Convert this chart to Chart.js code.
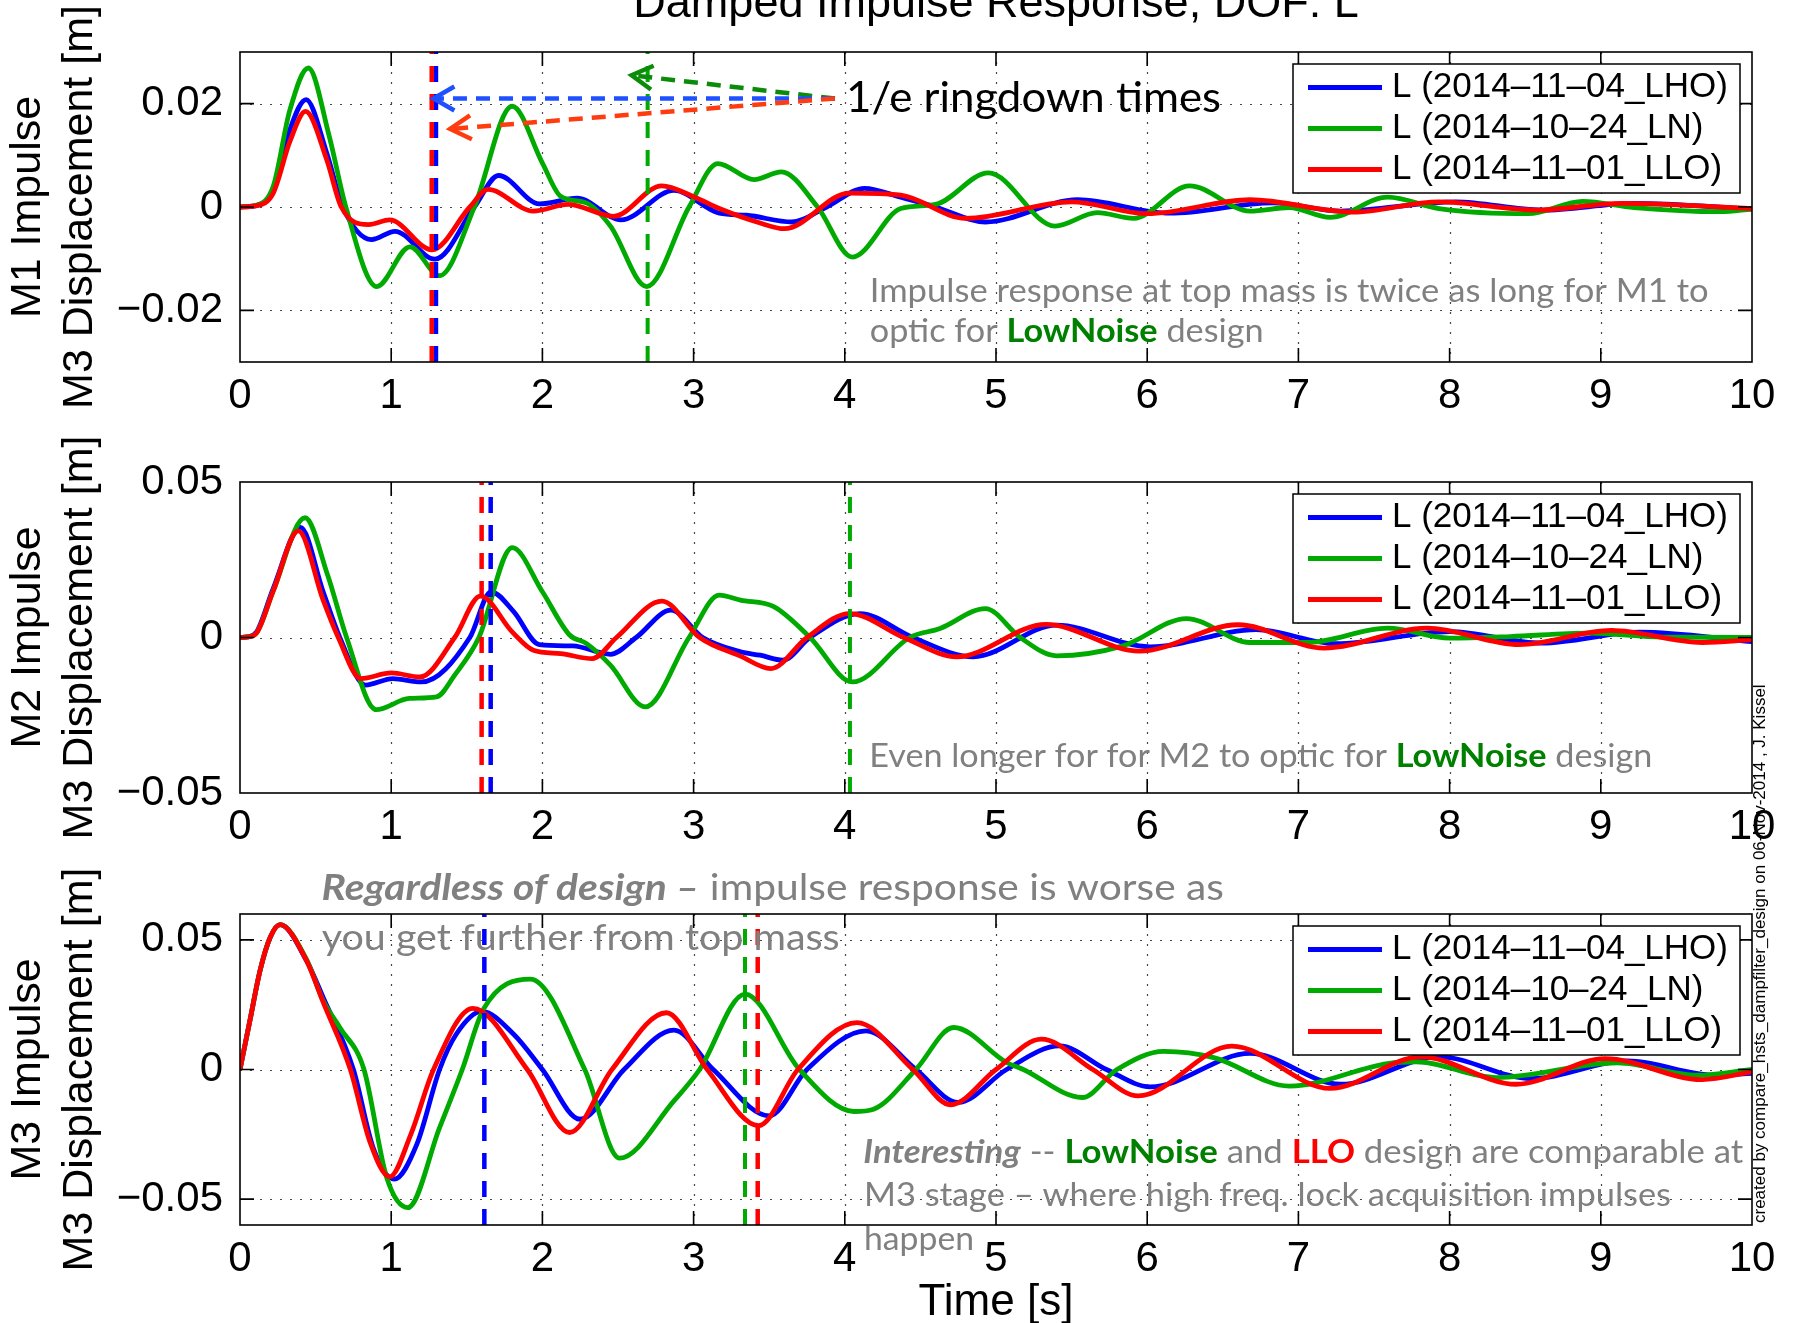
<!DOCTYPE html>
<html>
<head>
<meta charset="utf-8">
<script src="https://cdn.jsdelivr.net/npm/chart.js@4.4.1/dist/chart.umd.min.js"></script>
<style>
html,body{margin:0;padding:0;overflow:hidden;background:#fff;width:1799px;height:1323px;position:relative;}
canvas{position:absolute;left:0;}
#c1{top:-40px;}
#c2{top:420px;}
#c3{top:850px;}
#credit{position:absolute;left:1750px;top:1223px;font:17px "Liberation Sans",Arial,sans-serif;line-height:20px;white-space:nowrap;transform-origin:0 0;transform:rotate(-90deg);color:#000;}
</style>
</head>
<body>
<canvas id="c1" width="1799" height="460"></canvas>
<canvas id="c2" width="1799" height="431"></canvas>
<canvas id="c3" width="1799" height="495"></canvas>
<div id="credit">created by compare_hsts_dampfilter_design on 06-Nov-2014 , J. Kissel</div>
<script>
// ---------------- DATA ----------------
const chartTitle = 'Damped Impulse Response, DOF: L';
const seriesNames = ['L (2014\u201311\u201304_LHO)', 'L (2014\u201310\u201324_LN)', 'L (2014\u201311\u201301_LLO)'];
const xTickValues = [0,1,2,3,4,5,6,7,8,9,10];
const xTickLabels = ['0','1','2','3','4','5','6','7','8','9','10'];
const xTitle = 'Time [s]';

const m1YTicks = [-0.02, 0, 0.02];
const m1YLabels = ['\u22120.02', '0', '0.02'];
const m1Range = [-0.03, 0.03];
const m1AxisTitle = ['M1 Impulse', 'M3 Displacement [m]'];

const m2YTicks = [-0.05, 0, 0.05];
const m2YLabels = ['\u22120.05', '0', '0.05'];
const m2Range = [-0.05, 0.05];
const m2AxisTitle = ['M2 Impulse', 'M3 Displacement [m]'];

const m3YTicks = [-0.05, 0, 0.05];
const m3YLabels = ['\u22120.05', '0', '0.05'];
const m3Range = [-0.06, 0.06];
const m3AxisTitle = ['M3 Impulse', 'M3 Displacement [m]'];

// M1 -> M3 impulse response
const m1LHO_t = [0,0.1,0.22,0.33,0.437,0.573,0.68,0.87,1.025,1.29,1.55,1.71,1.98,2.23,2.52,2.87,3.17,3.35,3.65,3.88,4.13,4.37,4.6,4.93,5.54,6.15,6.83,7.28,8.04,8.61,9.22,10];
const m1LHO_v = [0,0.0002,0.0034,0.015,0.0208,0.0105,0,-0.0063,-0.0047,-0.0101,0,0.0061,0.0006,0.0017,-0.0025,0.0032,-0.0012,-0.0016,-0.0029,0,0.0036,0.0019,0,-0.0029,0.0014,-0.0012,0.0008,-0.0008,0.001,-0.0006,0.0007,-0.0004];
const m1LN_t = [0,0.1,0.22,0.33,0.452,0.59,0.70,0.904,1.124,1.32,1.55,1.80,2.0,2.12,2.29,2.45,2.69,2.97,3.16,3.40,3.58,3.82,4.05,4.37,4.6,4.95,5.39,5.67,5.91,6.28,6.68,6.94,7.21,7.59,7.93,8.52,8.88,9.22,9.79,10];
const m1LN_v = [0,0.0003,0.004,0.0188,0.0269,0.0137,0,-0.0154,-0.0077,-0.0133,0,0.0195,0.0085,0.0021,0.0008,-0.0037,-0.0154,0,0.0084,0.0053,0.0068,0,-0.0097,-0.0003,0.0005,0.0066,-0.0037,-0.0011,-0.0022,0.0041,-0.0008,-0.0001,-0.002,0.0019,-0.0003,-0.0013,0.0011,-0.0001,-0.0009,-0.0004];
const m1LLO_t = [0,0.1,0.22,0.33,0.434,0.573,0.67,0.85,0.99,1.27,1.52,1.64,1.94,2.17,2.47,2.79,3.0,3.17,3.44,3.6,4.03,4.37,4.8,5.5,6.0,6.68,7.36,7.93,8.57,9.14,10];
const m1LLO_v = [0,0.0002,0.0027,0.0127,0.0185,0.0092,0,-0.0034,-0.0025,-0.0083,0,0.0034,-0.0008,0.0005,-0.0018,0.0041,0.002,-0.0003,-0.0031,-0.0042,0.0027,0.0023,-0.0022,0.001,-0.0013,0.0014,-0.001,0.001,-0.0006,0.0007,-0.0003];

// M2 -> M3 impulse response
const m2LHO_t = [0,0.05,0.11,0.22,0.40,0.55,0.66,0.83,1.01,1.20,1.52,1.66,1.81,1.98,2.2,2.45,2.62,2.85,3.06,3.31,3.44,3.59,3.77,4.10,4.45,4.85,5.40,6.02,6.72,7.25,8.0,8.61,9.26,10];
const m2LHO_v = [0,0.0002,0.0018,0.0158,0.0354,0.0147,0,-0.0153,-0.0132,-0.0143,0,0.0147,0.0083,-0.0023,-0.0027,-0.0054,0,0.0088,0,-0.0046,-0.0057,-0.0073,0,0.0077,0,-0.0062,0.004,-0.003,0.0025,-0.002,0.0019,-0.0018,0.0017,-0.0013];
const m2LN_t = [0,0.05,0.11,0.22,0.43,0.58,0.705,0.90,1.12,1.30,1.42,1.58,1.80,2.0,2.18,2.29,2.45,2.68,2.97,3.17,3.31,3.53,3.77,4.05,4.43,4.63,4.93,5.16,5.40,5.84,6.26,6.68,7.06,7.59,8.0,8.4,8.92,9.41,10];
const m2LN_v = [0,0.0002,0.0015,0.015,0.0385,0.02,0,-0.0232,-0.0196,-0.0191,-0.0121,0,0.0289,0.0147,0.0008,-0.0019,-0.0089,-0.0223,0,0.0136,0.012,0.0099,0,-0.0143,0,0.0029,0.0093,0,-0.0059,-0.0027,0.0061,-0.0016,-0.0016,0.003,-0.0002,0.0003,0.0014,0.0001,0];
const m2LLO_t = [0,0.05,0.11,0.22,0.386,0.55,0.65,0.80,1.0,1.19,1.42,1.59,1.80,1.94,2.12,2.33,2.49,2.79,3.04,3.31,3.51,3.75,4.03,4.39,4.74,5.33,5.95,6.6,7.17,7.85,8.46,9.07,9.67,10];
const m2LLO_v = [0,0.0002,0.0015,0.015,0.0343,0.012,0,-0.0132,-0.0114,-0.0127,0,0.0133,0.0018,-0.0041,-0.0052,-0.0068,0,0.0117,0,-0.006,-0.01,0,0.0077,0,-0.0062,0.0042,-0.0044,0.0041,-0.0034,0.003,-0.0023,0.0023,-0.0016,-0.0007];

// M3 -> M3 impulse response
const m3LHO_t = [0,0.066,0.132,0.2,0.265,0.44,0.55,0.75,0.88,1.02,1.17,1.32,1.43,1.60,1.81,2.0,2.25,2.54,2.87,3.13,3.50,3.75,4.14,4.47,4.75,5.07,5.42,5.73,6.02,6.68,7.28,7.93,8.54,9.18,9.75,10];
const m3LHO_v = [0,0.019,0.038,0.051,0.0559,0.042,0.0278,0,-0.0301,-0.0423,-0.0288,0,0.0136,0.0224,0.0136,0,-0.0192,0,0.0152,0,-0.0179,0,0.0149,0,-0.0127,0,0.0091,0,-0.0067,0.0062,-0.0057,0.0049,-0.0035,0.0033,-0.0022,-0.0015];
const m3LN_t = [0,0.066,0.132,0.2,0.265,0.44,0.55,0.66,0.82,0.97,1.11,1.32,1.47,1.61,1.92,2.28,2.51,2.87,3.04,3.34,3.70,4.06,4.19,4.47,4.72,5.07,5.18,5.57,5.80,6.11,6.44,6.94,7.59,7.78,8.31,9.11,9.64,10];
const m3LN_v = [0,0.019,0.038,0.051,0.0559,0.0425,0.0265,0.0162,0,-0.0417,-0.0533,-0.0224,0,0.0233,0.0349,0,-0.0342,-0.0121,0,0.0291,0,-0.0162,-0.0153,0,0.0162,0.0027,0,-0.0108,0,0.007,0.0046,-0.0064,0.0023,0.003,-0.0031,0.0026,-0.0022,0];
const m3LLO_t = [0,0.066,0.132,0.2,0.265,0.44,0.55,0.73,0.86,0.99,1.13,1.28,1.54,1.90,2.18,2.46,2.82,3.09,3.43,3.69,4.08,4.45,4.70,5.0,5.30,5.64,5.94,6.56,7.21,7.81,8.44,9.03,9.67,10];
const m3LLO_v = [0,0.019,0.038,0.051,0.0559,0.042,0.026,0,-0.028,-0.0414,-0.025,0,0.0236,0,-0.0243,0,0.0219,0,-0.0217,0,0.0181,0,-0.0136,0,0.0117,0,-0.0102,0.009,-0.0073,0.0049,-0.0057,0.0042,-0.0039,-0.0009];

// 1/e ringdown times [s]  (LHO, LN, LLO)
const m1Ringdown = [1.296, 2.696, 1.268];
const m2Ringdown = [1.658, 4.034, 1.598];
const m3Ringdown = [1.616, 3.34, 3.424];

// annotation arrows (top panel): tail and tips in data units [s, m]
const arrowTail = [3.935, 0.021];
const arrowTipLHO = [1.28, 0.0210];
const arrowTipLN = [2.59, 0.0255];
const arrowTipLLO = [1.39, 0.0151];

// ---------------- STYLE ----------------
const seriesColors = ['rgb(0,0,255)', 'rgb(0,170,0)', 'rgb(255,0,0)'];
const GRAY = 'rgb(128,128,128)';
const DKGREEN = 'rgb(0,128,0)';
const AXFONT = '"Liberation Sans", Arial, Helvetica, sans-serif';
const NOTEFONT = 'Lato, "Open Sans", sans-serif';

function pts(t, v) { return t.map((x, i) => ({x: x, y: v[i]})); }
function curve(t, v, ci, order) {
  return {data: pts(t, v), borderColor: seriesColors[ci], borderWidth: 4.8, pointRadius: 0,
          cubicInterpolationMode: 'monotone', tension: 0.4, fill: false, order: order};
}
function vline(tv, ci, range, w) {
  return {data: [{x: tv, y: range[0]}, {x: tv, y: range[1]}], borderColor: seriesColors[ci],
          borderWidth: w, borderDash: [16, 12], pointRadius: 0, fill: false, order: 0, tension: 0};
}

// ------------- plugins -------------
const axesPlugin = {
  id: 'matlabAxes',
  beforeDatasetsDraw(chart) {
    const {ctx, chartArea: a, scales: {x, y}} = chart;
    ctx.save();
    ctx.strokeStyle = 'rgba(40,40,40,0.85)';
    ctx.lineWidth = 1.2;
    ctx.setLineDash([2, 8]);
    x.ticks.forEach(t => {
      const px = Math.round(x.getPixelForValue(t.value)) + 0.5;
      if (px <= a.left + 2 || px >= a.right - 2) return;
      ctx.beginPath(); ctx.moveTo(px, a.top); ctx.lineTo(px, a.bottom); ctx.stroke();
    });
    y.ticks.forEach(t => {
      const py = Math.round(y.getPixelForValue(t.value)) + 0.5;
      if (py <= a.top + 2 || py >= a.bottom - 2) return;
      ctx.beginPath(); ctx.moveTo(a.left, py); ctx.lineTo(a.right, py); ctx.stroke();
    });
    ctx.restore();
  },
  afterDatasetsDraw(chart) {
    const {ctx, chartArea: a, scales: {x, y}} = chart;
    ctx.save();
    ctx.setLineDash([]);
    ctx.strokeStyle = '#000';
    ctx.lineWidth = 1.6;
    const L = 14;
    x.ticks.forEach(t => {
      const px = x.getPixelForValue(t.value);
      if (px <= a.left + 2 || px >= a.right - 2) return;
      ctx.beginPath();
      ctx.moveTo(px, a.bottom); ctx.lineTo(px, a.bottom - L);
      ctx.moveTo(px, a.top); ctx.lineTo(px, a.top + L);
      ctx.stroke();
    });
    y.ticks.forEach(t => {
      const py = y.getPixelForValue(t.value);
      if (py <= a.top + 2 || py >= a.bottom - 2) return;
      ctx.beginPath();
      ctx.moveTo(a.left, py); ctx.lineTo(a.left + L, py);
      ctx.moveTo(a.right, py); ctx.lineTo(a.right - L, py);
      ctx.stroke();
    });
    ctx.strokeRect(a.left, a.top, a.right - a.left, a.bottom - a.top);
    ctx.restore();
  }
};

const legendPlugin = {
  id: 'matlabLegend',
  afterDatasetsDraw(chart) {
    const {ctx, chartArea: a} = chart;
    const bx = a.right - 459, by = a.top + 12, bw = 447, bh = 129;
    ctx.save();
    ctx.fillStyle = '#fff'; ctx.fillRect(bx, by, bw, bh);
    ctx.setLineDash([]);
    ctx.strokeStyle = '#000'; ctx.lineWidth = 1.5; ctx.strokeRect(bx, by, bw, bh);
    seriesNames.forEach((name, i) => {
      const yy = a.top + 35.5 + 41 * i;
      ctx.strokeStyle = seriesColors[i]; ctx.lineWidth = 4.8;
      ctx.beginPath(); ctx.moveTo(bx + 15, yy); ctx.lineTo(bx + 89, yy); ctx.stroke();
      ctx.fillStyle = '#000'; ctx.font = '35px ' + AXFONT;
      ctx.textBaseline = 'middle'; ctx.textAlign = 'left';
      ctx.fillText(name, bx + 99, yy);
    });
    ctx.restore();
  }
};

function drawRuns(ctx, note, a) {
  ctx.save();
  let total = 0;
  const fonts = note.runs.map(r => (r.i ? 'italic ' : '') + (r.b ? 'bold ' : '') + note.size + 'px ' + NOTEFONT);
  note.runs.forEach((r, k) => { ctx.font = fonts[k]; total += ctx.measureText(r.t).width; });
  const sx = note.w ? note.w / total : 1;
  ctx.translate(a.left + note.dx, a.top + note.dy);
  ctx.scale(sx, 1);
  ctx.textBaseline = 'alphabetic'; ctx.textAlign = 'left';
  let cx = 0;
  note.runs.forEach((r, k) => {
    ctx.font = fonts[k];
    ctx.fillStyle = r.c || GRAY;
    ctx.fillText(r.t, cx, 0);
    cx += ctx.measureText(r.t).width;
  });
  ctx.restore();
}

const notesPlugin = {
  id: 'notes',
  afterDraw(chart, args, opts) {
    const {ctx, chartArea: a} = chart;
    if (opts.title) {
      ctx.save();
      ctx.font = '45px ' + AXFONT; ctx.fillStyle = '#000';
      ctx.textAlign = 'center'; ctx.textBaseline = 'alphabetic';
      ctx.fillText(opts.title, (a.left + a.right) / 2, a.top - 35);
      ctx.restore();
    }
    if (opts.arrows) {
      const {x, y} = chart.scales;
      const tail = [x.getPixelForValue(arrowTail[0]), y.getPixelForValue(arrowTail[1])];
      opts.arrows.forEach(ar => {
        const tip = [x.getPixelForValue(ar.tip[0]), y.getPixelForValue(ar.tip[1])];
        ctx.save();
        ctx.strokeStyle = ar.color; ctx.lineWidth = 4.5;
        ctx.setLineDash([14, 9]);
        ctx.beginPath(); ctx.moveTo(tail[0], tail[1]); ctx.lineTo(tip[0], tip[1]); ctx.stroke();
        ctx.setLineDash([]);
        const ang = Math.atan2(tail[1] - tip[1], tail[0] - tip[0]);
        const hl = 24, ha = 0.52;
        ctx.beginPath();
        ctx.moveTo(tip[0] + hl * Math.cos(ang - ha), tip[1] + hl * Math.sin(ang - ha));
        ctx.lineTo(tip[0], tip[1]);
        ctx.lineTo(tip[0] + hl * Math.cos(ang + ha), tip[1] + hl * Math.sin(ang + ha));
        ctx.stroke();
        ctx.restore();
      });
    }
    (opts.notes || []).forEach(n => drawRuns(ctx, n, a));
  }
};

function makeChart(id, cfg) {
  return new Chart(document.getElementById(id), {
    type: 'line',
    data: {datasets: cfg.datasets},
    options: {
      responsive: false, animation: false, devicePixelRatio: 1,
      layout: {padding: {top: cfg.padTop, right: 47, left: 0, bottom: 0}},
      plugins: {
        legend: {display: false}, tooltip: {enabled: false},
        notes: {title: cfg.title, arrows: cfg.arrows, notes: cfg.notes}
      },
      scales: {
        x: {
          type: 'linear', min: 0, max: 10,
          afterBuildTicks: s => { s.ticks = xTickValues.map(v => ({value: v})); },
          afterFit: s => { s.height = cfg.xH; },
          grid: {display: false}, border: {display: false},
          ticks: {autoSkip: false, maxRotation: 0, minRotation: 0, padding: 1.5, color: '#000',
                  font: {family: AXFONT, size: 42}, callback: (v, i) => xTickLabels[i]},
          title: cfg.xTitle ? {display: true, text: cfg.xTitle, color: '#000',
                  font: {family: AXFONT, size: 44, lineHeight: 1.2}, padding: {top: 0, bottom: 15.5}} : {display: false}
        },
        y: {
          type: 'linear', min: cfg.range[0], max: cfg.range[1],
          afterBuildTicks: s => { s.ticks = cfg.yTicks.map(v => ({value: v})); },
          afterFit: s => { s.width = 240; },
          grid: {display: false}, border: {display: false},
          ticks: {autoSkip: false, padding: 9, color: '#000', font: {family: AXFONT, size: 42},
                  callback: (v, i) => cfg.yLabels[i]},
          title: {display: true, text: cfg.yTitle, color: '#000',
                  font: {family: AXFONT, size: 43, lineHeight: 1.2}, padding: {top: 2.5, bottom: 0}}
        }
      }
    },
    plugins: [axesPlugin, legendPlugin, notesPlugin]
  });
}

// ---- Panel 1: M1 ----
makeChart('c1', {
  padTop: 92, xH: 58, range: m1Range, yTicks: m1YTicks, yLabels: m1YLabels, yTitle: m1AxisTitle,
  title: chartTitle,
  datasets: [
    vline(m1Ringdown[2], 2, m1Range, 4.5), vline(m1Ringdown[0], 0, m1Range, 4.5), vline(m1Ringdown[1], 1, m1Range, 4),
    curve(m1LLO_t, m1LLO_v, 2, 1), curve(m1LN_t, m1LN_v, 1, 2), curve(m1LHO_t, m1LHO_v, 0, 3)
  ],
  arrows: [
    {tip: arrowTipLN, color: 'rgb(10,140,10)'},
    {tip: arrowTipLHO, color: 'rgb(30,80,255)'},
    {tip: arrowTipLLO, color: 'rgb(255,60,15)'}
  ],
  notes: [
    {dx: 606, dy: 60, size: 43, w: 375, runs: [{t: '1/e ringdown times', c: '#000'}]},
    {dx: 629.7, dy: 249.5, size: 32, w: 839, runs: [{t: 'Impulse response at top mass is twice as long for M1 to'}]},
    {dx: 629.7, dy: 290, size: 32, w: 394, runs: [{t: 'optic for '}, {t: 'LowNoise', b: true, c: DKGREEN}, {t: ' design'}]}
  ]
});

// ---- Panel 2: M2 ----
makeChart('c2', {
  padTop: 62, xH: 58, range: m2Range, yTicks: m2YTicks, yLabels: m2YLabels, yTitle: m2AxisTitle,
  datasets: [
    vline(m2Ringdown[2], 2, m2Range, 4.5), vline(m2Ringdown[0], 0, m2Range, 4.5), vline(m2Ringdown[1], 1, m2Range, 4),
    curve(m2LLO_t, m2LLO_v, 2, 1), curve(m2LN_t, m2LN_v, 1, 2), curve(m2LHO_t, m2LHO_v, 0, 3)
  ],
  notes: [
    {dx: 629.3, dy: 284.7, size: 32, w: 783, runs: [{t: 'Even longer for for M2 to optic for '}, {t: 'LowNoise', b: true, c: DKGREEN}, {t: ' design'}]}
  ]
});

// ---- Panel 3: M3 ----
makeChart('c3', {
  padTop: 64, xH: 120, range: m3Range, yTicks: m3YTicks, yLabels: m3YLabels, yTitle: m3AxisTitle,
  xTitle: xTitle,
  datasets: [
    vline(m3Ringdown[2], 2, m3Range, 4.5), vline(m3Ringdown[0], 0, m3Range, 4.5), vline(m3Ringdown[1], 1, m3Range, 4),
    curve(m3LLO_t, m3LLO_v, 2, 1), curve(m3LN_t, m3LN_v, 1, 2), curve(m3LHO_t, m3LHO_v, 0, 3)
  ],
  notes: [
    {dx: 81.5, dy: -14, size: 37, w: 902.5, runs: [{t: 'Regardless of design \u2013', b: true, i: true}, {t: ' impulse response is worse as'}]},
    {dx: 81.7, dy: 35.5, size: 37, w: 518, runs: [{t: 'you get further from top mass'}]},
    {dx: 623.3, dy: 248.5, size: 32, w: 880, runs: [{t: 'Interesting', b: true, i: true}, {t: ' -- '}, {t: 'LowNoise', b: true, c: DKGREEN}, {t: ' and '}, {t: 'LLO', b: true, c: 'rgb(255,0,0)'}, {t: ' design are comparable at'}]},
    {dx: 624, dy: 292, size: 32, w: 807, runs: [{t: 'M3 stage \u2013 where high freq. lock acquisition impulses'}]},
    {dx: 624, dy: 336, size: 32, w: 110, runs: [{t: 'happen'}]}
  ]
});
</script>
</body>
</html>
